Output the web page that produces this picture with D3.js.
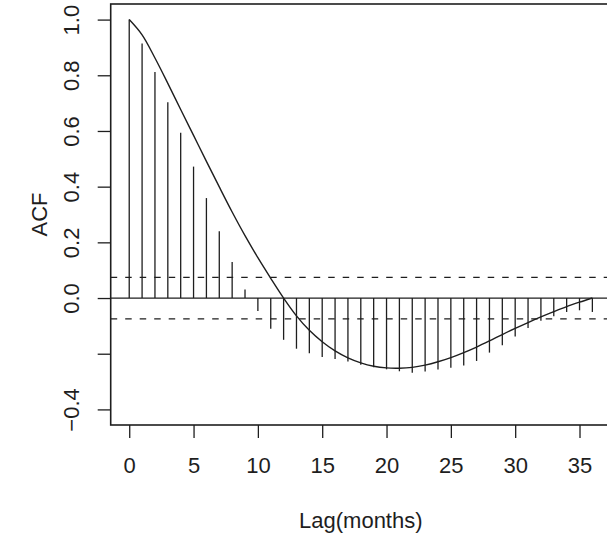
<!DOCTYPE html>
<meta charset="utf-8">
<script src="https://d3js.org/d3.v7.min.js"></script>
<style>
  body { margin: 0; background: #fff; }
  svg { display: block; font-family: "Liberation Sans", Arial, sans-serif; }
</style>
<div id="my_dataviz"></div>
<script>

// sample autocorrelations, lags 0..36
var lags = d3.range(0, 37);
var acf = [1.0, 0.914, 0.812, 0.703, 0.594, 0.472, 0.359, 0.240, 0.129, 0.031,
  -0.047, -0.110, -0.150, -0.182, -0.198, -0.212, -0.219, -0.228, -0.240, -0.249,
  -0.256, -0.263, -0.268, -0.264, -0.257, -0.250, -0.242, -0.226, -0.196, -0.170,
  -0.138, -0.108, -0.082, -0.065, -0.050, -0.044, -0.050];

var theory = [1.0, 0.945, 0.862, 0.771, 0.677, 0.584, 0.491, 0.399, 0.309, 0.224,
  0.145, 0.071, 0.0, -0.064, -0.116, -0.157, -0.190, -0.215, -0.233, -0.245,
  -0.251, -0.252, -0.249, -0.241, -0.229, -0.214, -0.196, -0.176, -0.154, -0.131,
  -0.109, -0.088, -0.068, -0.049, -0.031, -0.015, 0.0];

// confidence band
var band = [0.074, -0.075];

var xTicks = [0, 5, 10, 15, 20, 25, 30, 35];
var yTicks = [-0.4, -0.2, 0, 0.2, 0.4, 0.6, 0.8, 1.0];

var width = 607, height = 534;
var plotL = 110.7, plotR = 610.9, plotT = 4, plotB = 425;
var ink = "#1e1e1e";

var svg = d3.select("#my_dataviz")
  .append("svg")
    .attr("width", width)
    .attr("height", height);

var x = d3.scaleLinear().domain([-1.44, 37.44]).range([plotL, plotR]);
var y = d3.scaleLinear().domain([-0.456, 1.056]).range([plotB, plotT]);

// confidence lines
svg.selectAll("band")
  .data(band)
  .enter()
  .append("line")
    .attr("x1", plotL).attr("x2", plotR)
    .attr("y1", function(d){ return y(d) })
    .attr("y2", function(d){ return y(d) })
    .attr("stroke", ink)
    .attr("stroke-width", 1.2)
    .attr("stroke-dasharray", "6.5,8");

// zero line
svg.append("line")
  .attr("x1", plotL).attr("x2", plotR)
  .attr("y1", y(0)).attr("y2", y(0))
  .attr("stroke", ink)
  .attr("stroke-width", 1.3);

// spikes
svg.selectAll("spikes")
  .data(lags)
  .enter()
  .append("line")
    .attr("x1", function(d){ return x(d) })
    .attr("x2", function(d){ return x(d) })
    .attr("y1", y(0))
    .attr("y2", function(d){ return y(acf[d]) })
    .attr("stroke", ink)
    .attr("stroke-width", 1.3);

// theoretical curve
var line = d3.line()
  .x(function(d){ return x(d) })
  .y(function(d){ return y(theory[d]) })
  .curve(d3.curveCatmullRom);

svg.append("path")
  .datum(lags)
  .attr("d", line)
  .attr("fill", "none")
  .attr("stroke", ink)
  .attr("stroke-width", 1.4);

// box
svg.append("rect")
  .attr("x", plotL).attr("y", plotT)
  .attr("width", plotR - plotL).attr("height", plotB - plotT)
  .attr("fill", "none")
  .attr("stroke", ink)
  .attr("stroke-width", 1.6);

// x axis
var xAxis = svg.append("g")
  .attr("transform", "translate(0," + plotB + ")")
  .call(d3.axisBottom(x).tickValues(xTicks).tickSize(13).tickFormat(d3.format("d")));
xAxis.select(".domain").remove();
xAxis.selectAll("line").attr("stroke", ink).attr("stroke-width", 1.3);
xAxis.selectAll("text")
  .attr("y", 48).attr("dy", 0)
  .attr("fill", ink)
  .style("font-size", "22px");

// y axis
var yAxis = svg.append("g")
  .attr("transform", "translate(" + plotL + ",0)")
  .call(d3.axisLeft(y).tickValues(yTicks).tickSize(13)
    .tickFormat(function(d){ return Math.abs(d + 0.2) < 1e-9 ? "" : d3.format(".1f")(d) }));
yAxis.select(".domain").remove();
yAxis.selectAll("line").attr("stroke", ink).attr("stroke-width", 1.3);
yAxis.selectAll("text")
  .attr("x", 0).attr("y", 0).attr("dy", 0)
  .attr("transform", "translate(-32,0) rotate(-90)")
  .attr("text-anchor", "middle")
  .attr("fill", ink)
  .style("font-size", "22px");

// axis titles
svg.append("text")
  .attr("x", (plotL + plotR) / 2)
  .attr("y", 528)
  .attr("text-anchor", "middle")
  .attr("fill", ink)
  .style("font-size", "22px")
  .text("Lag(months)");

svg.append("text")
  .attr("transform", "translate(46.5," + ((plotT + plotB) / 2) + ") rotate(-90)")
  .attr("text-anchor", "middle")
  .attr("fill", ink)
  .style("font-size", "22px")
  .text("ACF");

</script>
